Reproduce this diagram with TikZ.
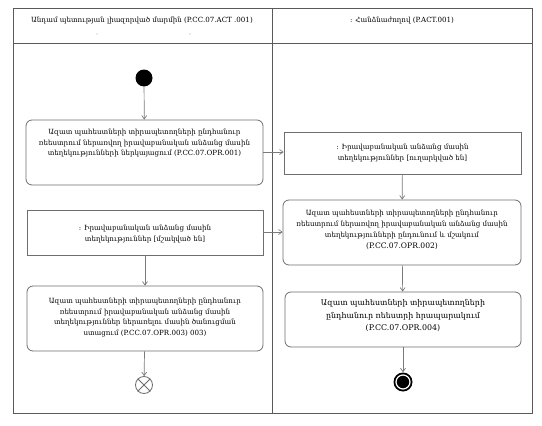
\documentclass[tikz,border=0pt]{standalone}
\usepackage{fontspec}
\setmainfont{DejaVu Serif}
\usetikzlibrary{arrows.meta,positioning}
\definecolor{frameC}{HTML}{5A5A5A}
\definecolor{boxC}{HTML}{6E6E6E}
\definecolor{lineC}{HTML}{7A7A7A}
\tikzset{
  lane/.style={draw=frameC,line width=0.9pt},
  actbox/.style={draw=boxC,line width=0.8pt,rounded corners=6pt,fill=white},
  objbox/.style={draw=boxC,line width=0.8pt,fill=white},
  txt/.style={font=\fontsize{7.1}{10.8}\selectfont,align=center,inner sep=0pt},
  bigtxt/.style={font=\fontsize{7.9}{12.5}\selectfont,align=center,inner sep=0pt},
  hdr/.style={font=\fontsize{7.1}{9}\selectfont,inner sep=0pt},
  flow/.style={draw=lineC,line width=0.7pt,-{Straight Barb[length=3.5pt,width=5pt]}},
  plain/.style={draw=lineC,line width=0.7pt}
}
\begin{document}
\begin{tikzpicture}[x=1pt,y=-1pt]
\useasboundingbox (0,0) rectangle (542,426);
% swimlanes
\draw[lane] (13,8) rectangle (532,413);
\draw[lane] (13,43) -- (532,43);
\draw[lane] (272,8) -- (272,413);
\node[hdr] (h1) at (142,20) {Անդամ պետության լիազորված մարմին (P.CC.07.ACT .001)};
\node[hdr] (h2) at (402,20) {: Հանձնաժողով (P.ACT.001)};
\fill[gray!70] (97,34) circle (0.6);
\fill[gray!70] (190,34) circle (0.6);
% start
\node[circle,fill=black,minimum size=17pt,inner sep=0pt] (start) at (144,78) {};
% left activities
\node[actbox,minimum width=237pt,minimum height=65pt] (b1) at (144.5,152.5) {};
\node[txt,below=9pt of b1.north] (b1t) {Ազատ պահեստների տիրապետողների ընդհանուր\\ռեեստրում ներառվող իրավաբանական անձանց մասին\\տեղեկությունների ներկայացում (P.CC.07.OPR.001)};
\node[objbox,minimum width=236pt,minimum height=45pt] (b2) at (145,232.5) {};
\node[txt] (b2t) at (145,234) {: Իրավաբանական անձանց մասին\\տեղեկություններ [մշակված են]};
\node[actbox,minimum width=236pt,minimum height=65pt] (b3) at (145,318.5) {};
\node[txt,below=12pt of b3.north] (b3t) {Ազատ պահեստների տիրապետողների ընդհանուր\\ռեեստրում իրավաբանական անձանց մասին\\տեղեկություններ ներառելու մասին ծանուցման\\ստացում (P.CC.07.OPR.003) 003)};
% flow final
\node[circle,draw=boxC,line width=0.8pt,minimum size=17pt,inner sep=0pt,fill=white] (ff) at (144,385) {};
\draw[boxC,line width=0.8pt] (ff.north east) -- (ff.south west) (ff.north west) -- (ff.south east);
% right activities
\node[objbox,minimum width=237pt,minimum height=42pt] (ro) at (402.5,153) {};
\node[txt] (rot) at (402.5,153) {: Իրավաբանական անձանց մասին\\տեղեկություններ [ուղարկված են]};
\node[actbox,minimum width=238pt,minimum height=65pt] (rb1) at (402,232.5) {};
\node[txt] (rb1t) at (402,230) {Ազատ պահեստների տիրապետողների ընդհանուր\\ռեեստրում ներառվող իրավաբանական անձանց մասին\\տեղեկությունների ընդունում և մշակում\\{\fontsize{7.6}{10.8}\selectfont(P.CC.07.OPR.002)}};
\node[actbox,minimum width=236pt,minimum height=55pt] (rb2) at (403,319.5) {};
\node[bigtxt] (rb2t) at (403,316) {Ազատ պահեստների տիրապետողների\\ընդհանուր ռեեստրի հրապարակում\\(P.CC.07.OPR.004)};
% final
\node[circle,fill=black,minimum size=19pt,inner sep=0pt] (fin) at (403,382) {};
\node[circle,draw=white,line width=1.2pt,fill=black,minimum size=14pt,inner sep=0pt] (fin2) at (fin) {};
% connectors
\draw[flow] (start) -- (b1);
\draw[flow] (b1.east |- 0,152) -- (ro.west |- 0,152);
\draw[flow] (ro) -- (rb1);
\draw[flow] (b2.east |- 0,232) -- (rb1.west |- 0,232);
\draw[flow] (rb1) -- (rb2);
\draw[flow] (rb2) -- (fin);
\draw[flow] (b2) -- (b3);
\draw[flow] (b3) -- (ff);
\end{tikzpicture}
\end{document}
